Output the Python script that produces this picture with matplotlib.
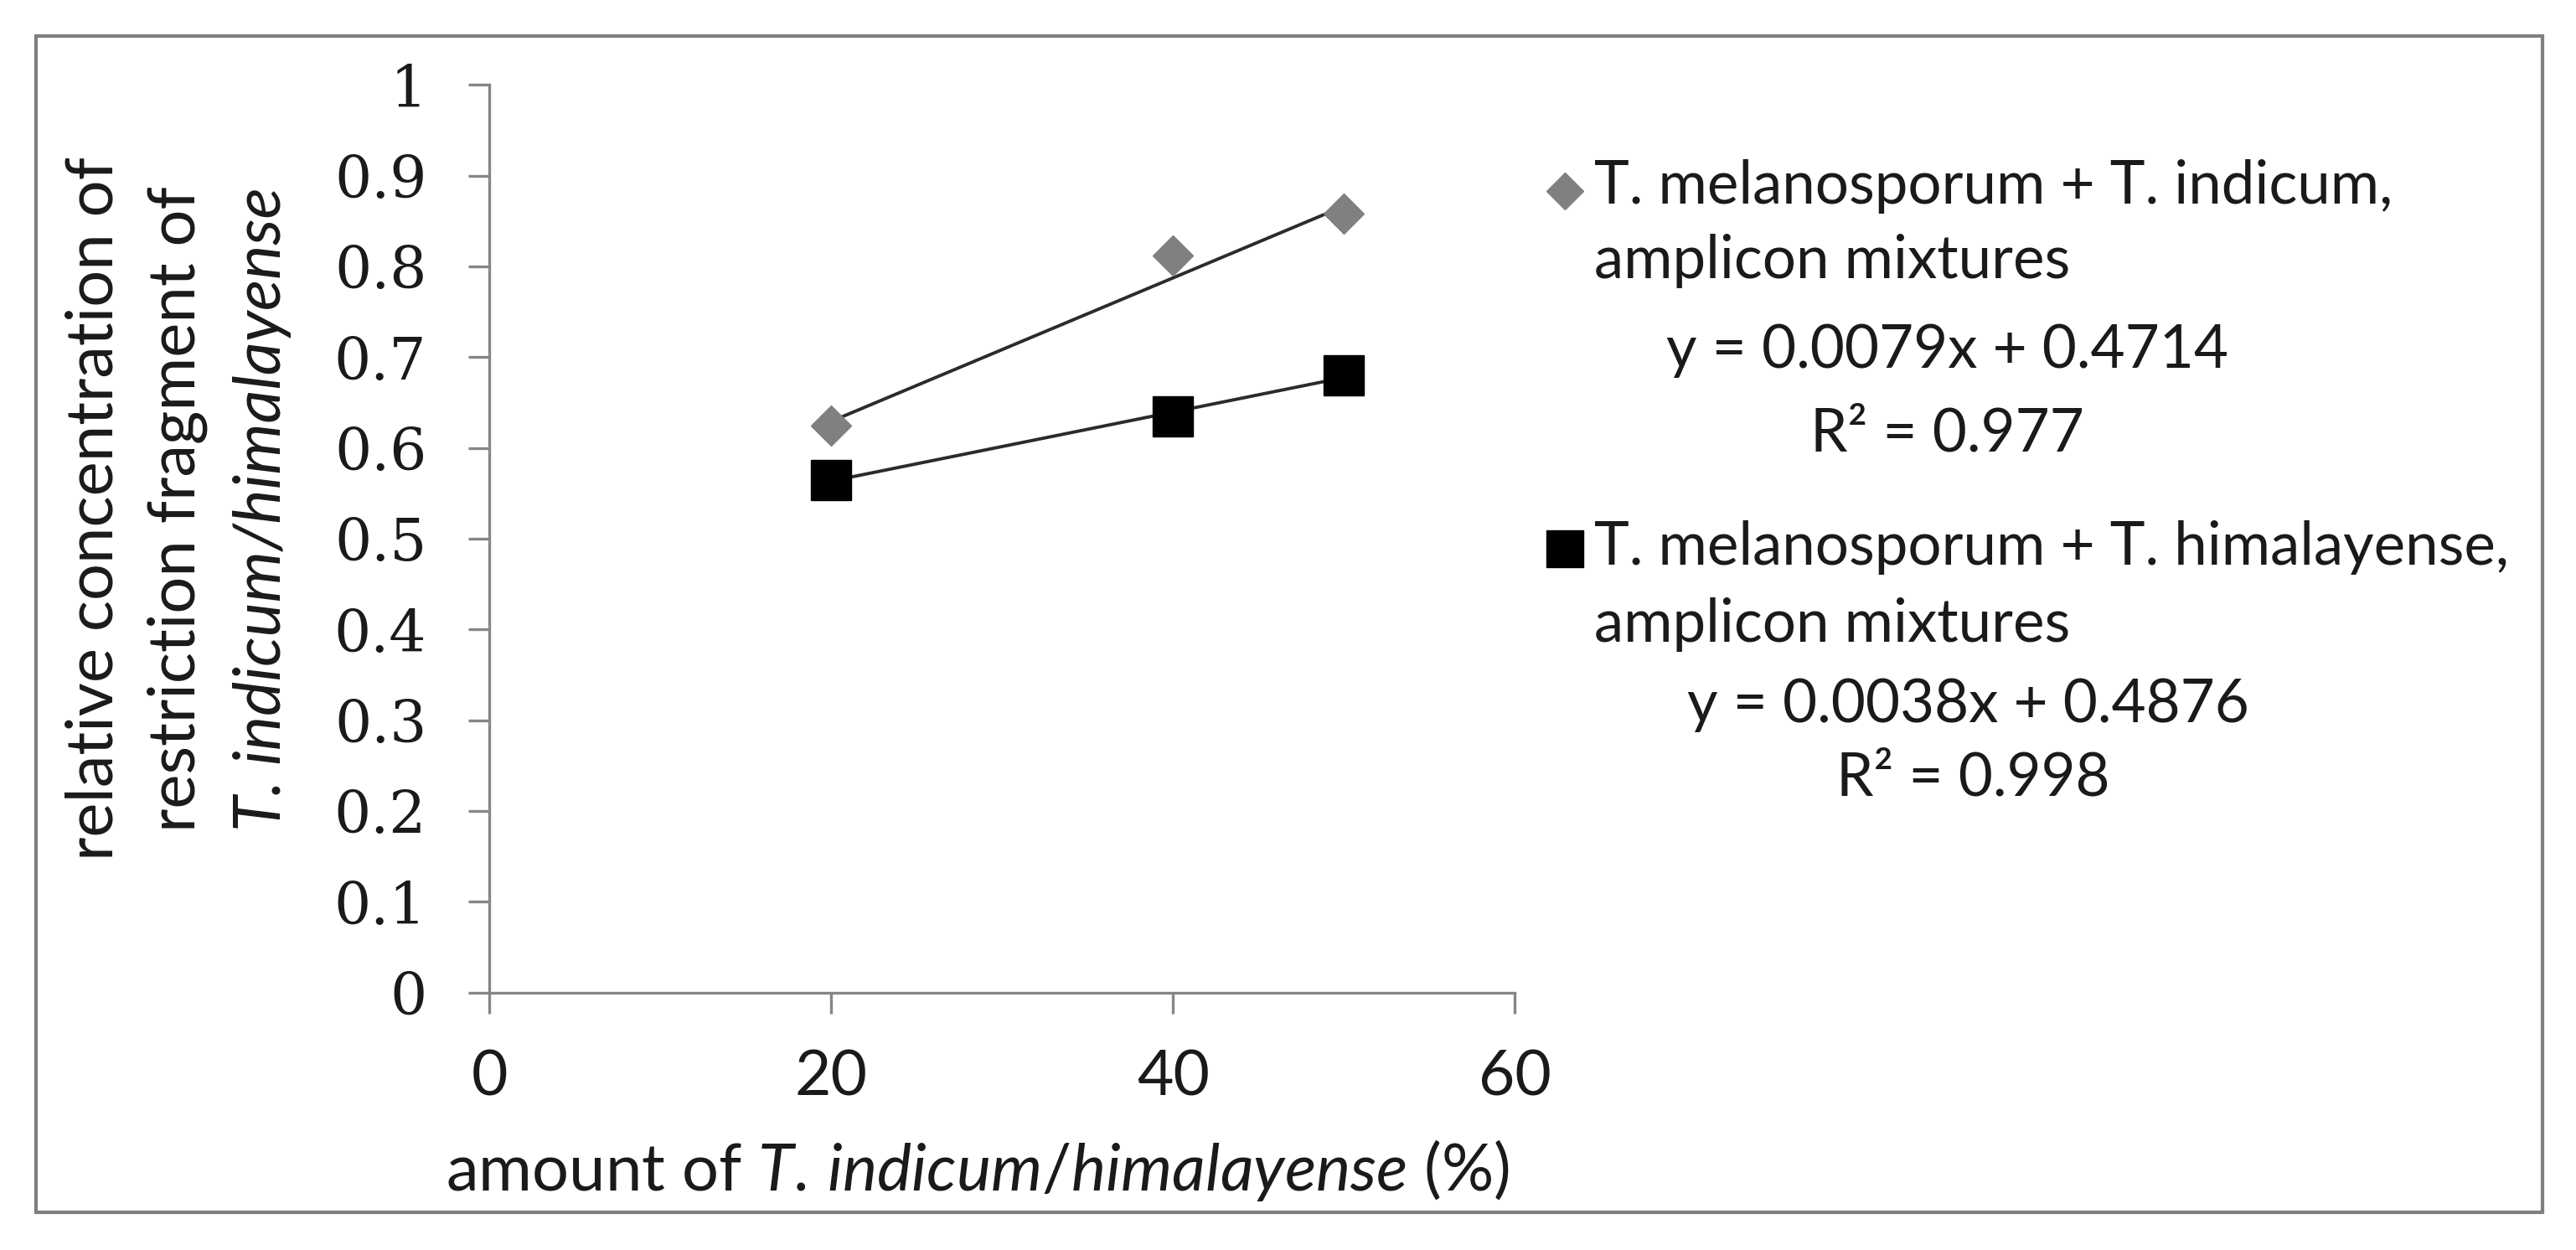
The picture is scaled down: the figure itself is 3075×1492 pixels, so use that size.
# amplicon mixtures: relative concentration vs amount, with linear trendlines

import matplotlib
matplotlib.use('Agg')
import matplotlib.pyplot as plt
import numpy as np
from matplotlib.lines import Line2D
from matplotlib.patches import Rectangle
from matplotlib.ticker import FormatStrFormatter

plt.rcParams['font.family'] = ['Lato', 'DejaVu Sans']
plt.rcParams['mathtext.fontset'] = 'custom'
plt.rcParams['mathtext.rm'] = 'Lato'
plt.rcParams['mathtext.it'] = 'Lato:italic'

# data
amount = [20, 40, 50]
indicum_conc = [0.625, 0.812, 0.858]
himal_conc = [0.565, 0.635, 0.680]

# trendline coefficients (as printed on the chart)
indicum_fit = (0.0079, 0.4714, 0.977)
himal_fit = (0.0038, 0.4876, 0.998)

x_ticks = [0, 20, 40, 60]
y_ticks = [0, 0.1, 0.2, 0.3, 0.4, 0.5, 0.6, 0.7, 0.8, 0.9, 1]

axis_grey = '#868686'
txt = '#1a1a1a'
fs = 56      # axis titles
fs_leg = 51  # legend / equations

fig = plt.figure(figsize=(30.75, 14.92), dpi=100)
ax = fig.add_axes([0.190, 0.206, 0.398, 0.726])

# outer frame
fig.add_artist(Rectangle((0.014, 0.030), 0.973, 0.941, transform=fig.transFigure,
                         fill=False, edgecolor='#7f7f7f', lw=3))

xs = np.array(amount, dtype=float)
for fit in (indicum_fit, himal_fit):
    ax.plot(xs, fit[0] * xs + fit[1], color='#2b2b2b', lw=2.8, zorder=2)

ax.plot(amount, indicum_conc, linestyle='none', marker='D', markersize=24,
        color='#808080', zorder=3)
ax.plot(amount, himal_conc, linestyle='none', marker='s', markersize=34,
        color='black', zorder=3)

ax.set_xlim(0, 60)
ax.set_ylim(0, 1)
ax.set_xticks(x_ticks)
ax.set_yticks(y_ticks)
ax.yaxis.set_major_formatter(FormatStrFormatter('%g'))
for s in ('top', 'right'):
    ax.spines[s].set_visible(False)
for s in ('left', 'bottom'):
    ax.spines[s].set_color(axis_grey)
    ax.spines[s].set_linewidth(2.4)
ax.tick_params(axis='both', direction='out', length=18, width=2.4, color=axis_grey,
               labelcolor=txt)
ax.tick_params(axis='x', pad=30, labelsize=54)
ax.tick_params(axis='y', pad=36, labelsize=50)
for lab in ax.get_yticklabels():
    lab.set_fontfamily('DejaVu Serif')

# axis titles
fig.text(0.0439, 0.593, 'relative concentration of', rotation=90, rotation_mode='anchor',
         ha='center', va='baseline', fontsize=fs, color=txt)
fig.text(0.0758, 0.593, 'restriction fragment of', rotation=90, rotation_mode='anchor',
         ha='center', va='baseline', fontsize=fs, color=txt)
fig.text(0.1089, 0.593, 'T. indicum/himalayense', rotation=90, rotation_mode='anchor',
         ha='center', va='baseline', fontsize=fs, style='italic', color=txt)
fig.text(0.3795, 0.064, r'amount of $T.\,indicum/himalayense$ (%)', ha='center', va='center',
         fontsize=fs, color=txt)

# legend with trendline equations
fig.add_artist(Line2D([0.6075], [0.847], transform=fig.transFigure, marker='D',
                      markersize=22, color='#808080', linestyle='none'))
fig.add_artist(Line2D([0.6075], [0.561], transform=fig.transFigure, marker='s',
                      markersize=32, color='black', linestyle='none'))

fig.text(0.619, 0.837, 'T. melanosporum + T. indicum,', va='baseline', fontsize=fs_leg, color=txt)
fig.text(0.619, 0.7775, 'amplicon mixtures', va='baseline', fontsize=fs_leg, color=txt)
fig.text(0.756, 0.7058, 'y = %.4fx + %.4f' % indicum_fit[:2], ha='center', va='baseline',
         fontsize=fs_leg, color=txt)
fig.text(0.756, 0.6388, 'R² = %.3f' % indicum_fit[2], ha='center', va='baseline',
         fontsize=fs_leg, color=txt)

fig.text(0.619, 0.5483, 'T. melanosporum + T. himalayense,', va='baseline', fontsize=fs_leg, color=txt)
fig.text(0.619, 0.4866, 'amplicon mixtures', va='baseline', fontsize=fs_leg, color=txt)
fig.text(0.764, 0.422, 'y = %.4fx + %.4f' % himal_fit[:2], ha='center', va='baseline',
         fontsize=fs_leg, color=txt)
fig.text(0.766, 0.3633, 'R² = %.3f' % himal_fit[2], ha='center', va='baseline',
         fontsize=fs_leg, color=txt)

fig.savefig('out.png', dpi=100)
